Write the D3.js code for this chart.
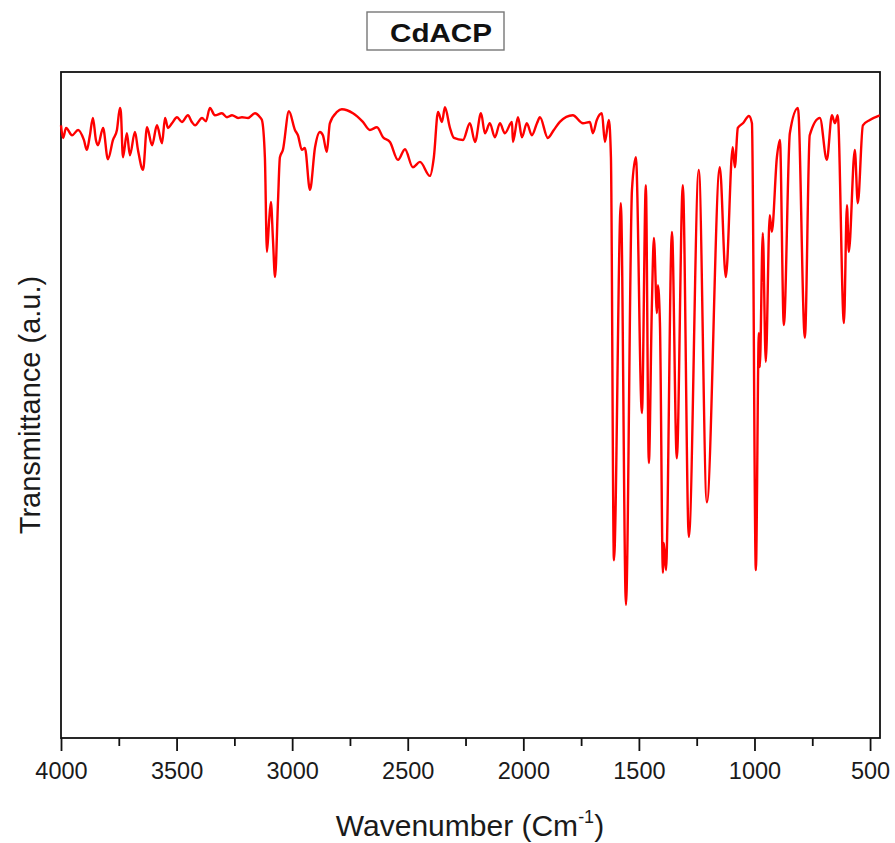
<!DOCTYPE html>
<html>
<head>
<meta charset="utf-8">
<script src="https://cdn.jsdelivr.net/npm/d3@7"></script>
<style>
  html, body { margin: 0; padding: 0; background: #fff; }
  svg { display: block; }
</style>
</head>
<body>
<svg id="chart" width="895" height="843"></svg>
<script>
// FT-IR spectrum of CdACP: wavenumber (cm-1) and transmittance (a.u.)
const wavenumbers = [
  4000, 3991, 3978, 3952, 3926, 3901, 3888, 3875, 3862, 3849, 3840, 3818, 3797, 3775, 3758,
  3745, 3741, 3732, 3715, 3702, 3680, 3667, 3645, 3628, 3606, 3585, 3563, 3550, 3537, 3520,
  3498, 3477, 3451, 3434, 3420, 3390, 3373, 3356, 3334, 3304, 3282, 3260, 3234, 3217, 3191,
  3161, 3139, 3131, 3118, 3109, 3100, 3092, 3083, 3074, 3061, 3053, 3040, 3014, 2988, 2975,
  2958, 2945, 2923, 2901, 2880, 2867, 2850, 2837, 2806, 2785, 2737, 2694, 2664, 2633, 2607,
  2577, 2542, 2512, 2478, 2447, 2404, 2387, 2369, 2352, 2339, 2318, 2300, 2261, 2231, 2209,
  2183, 2166, 2145, 2123, 2101, 2080, 2049, 2045, 2023, 2006, 1985, 1963, 1941, 1928, 1894,
  1868, 1842, 1786, 1742, 1712, 1699, 1682, 1660, 1647, 1630, 1621, 1608, 1578, 1556, 1530,
  1513, 1487, 1470, 1457, 1444, 1435, 1422, 1418, 1409, 1396, 1392, 1383, 1357, 1336, 1310,
  1284, 1241, 1206, 1150, 1124, 1094, 1085, 1072, 1050, 1024, 1011, 994, 981, 977, 964,
  951, 934, 925, 903, 890, 873, 847, 812, 782, 761, 717, 687, 665, 652, 640,
  613, 600, 592, 566, 553, 531, 501, 458
];
const transmittance = [
  92.0, 90.1, 91.6, 90.5, 91.3, 89.8, 88.3, 90.5, 93.1, 89.8, 89.0, 91.6, 86.9, 89.8, 91.3,
  94.6, 94.0, 87.2, 90.8, 87.5, 91.0, 88.3, 85.3, 91.7, 89.0, 92.0, 89.3, 93.1, 91.6, 92.3,
  93.2, 92.5, 93.5, 92.5, 92.0, 93.1, 92.6, 94.6, 93.5, 93.8, 93.2, 93.5, 93.1, 93.2, 93.1,
  93.8, 93.2, 92.8, 87.2, 73.0, 77.5, 80.5, 74.8, 69.2, 80.8, 87.2, 88.3, 94.1, 91.3, 90.5,
  88.3, 88.6, 82.3, 88.7, 91.0, 90.5, 88.0, 92.3, 94.0, 94.4, 93.8, 92.5, 91.3, 91.7, 90.2,
  89.5, 86.8, 88.4, 85.7, 86.5, 84.4, 87.2, 94.0, 92.5, 94.7, 91.7, 90.1, 89.8, 92.3, 89.5,
  93.8, 90.8, 92.3, 90.2, 92.3, 90.8, 92.5, 89.5, 93.2, 90.2, 92.3, 90.5, 92.3, 93.2, 90.1,
  91.3, 92.5, 93.5, 92.3, 92.5, 90.8, 92.8, 93.8, 89.5, 92.8, 87.2, 26.7, 80.3, 20.0, 82.3,
  87.2, 48.8, 83.0, 41.3, 64.7, 75.1, 63.8, 68.0, 62.3, 24.8, 29.3, 25.2, 76.0, 42.0, 83.0,
  30.2, 85.3, 35.4, 85.7, 69.2, 88.7, 85.7, 91.6, 92.3, 93.4, 92.3, 25.2, 60.8, 55.7, 75.8,
  56.5, 78.5, 76.0, 87.2, 89.8, 62.0, 90.8, 94.6, 60.1, 90.5, 93.1, 86.8, 93.5, 92.3, 93.5,
  62.3, 80.0, 73.0, 88.3, 80.3, 92.0, 92.8, 93.5
];
const majorTicks = [4000, 3500, 3000, 2500, 2000, 1500, 1000, 500];
const minorTicks = [3750, 3250, 2750, 2250, 1750, 1250, 750];
const chartTitle = "CdACP";

(function draw() {
  const svg = d3.select("#chart");
  const plotLeft = 61, plotRight = 880, plotTop = 72, plotBottom = 738;

  const x = d3.scaleLinear().domain([4000, 457]).range([plotLeft, plotRight]);
  const y = d3.scaleLinear().domain([0, 100]).range([plotBottom, plotTop]);

  const font = "'Liberation Sans', Arial, Helvetica, sans-serif";

  // plot frame
  svg.append("rect")
    .attr("x", plotLeft).attr("y", plotTop)
    .attr("width", plotRight - plotLeft).attr("height", plotBottom - plotTop)
    .attr("fill", "none").attr("stroke", "#111").attr("stroke-width", 1.8);

  // bottom axis: major ticks with labels, minor ticks without
  const axisMajor = d3.axisBottom(x).tickValues(majorTicks).tickSize(13).tickPadding(11)
    .tickFormat(d3.format("d"));
  const gMajor = svg.append("g").attr("transform", `translate(0,${plotBottom})`).call(axisMajor);
  gMajor.select(".domain").remove();
  gMajor.selectAll(".tick line").attr("stroke", "#111").attr("stroke-width", 1.8);
  gMajor.selectAll(".tick text")
    .attr("fill", "#1a1a1a").style("font-family", font).style("font-size", "23.5px");

  const axisMinor = d3.axisBottom(x).tickValues(minorTicks).tickSize(8).tickFormat("");
  const gMinor = svg.append("g").attr("transform", `translate(0,${plotBottom})`).call(axisMinor);
  gMinor.select(".domain").remove();
  gMinor.selectAll(".tick line").attr("stroke", "#111").attr("stroke-width", 1.8);

  // spectrum trace
  const points = wavenumbers.map((w, i) => [w, transmittance[i]]);
  const line = d3.line()
    .x(d => x(d[0]))
    .y(d => y(d[1]))
    .curve(d3.curveMonotoneX);

  svg.append("path")
    .datum(points)
    .attr("d", line)
    .attr("fill", "none")
    .attr("stroke", "#ff0000")
    .attr("stroke-width", 2.4)
    .attr("stroke-linejoin", "round");

  // x axis title with superscript
  const xt = svg.append("text")
    .attr("x", 470).attr("y", 836)
    .attr("text-anchor", "middle")
    .attr("fill", "#1a1a1a")
    .style("font-family", font).style("font-size", "30px");
  xt.append("tspan").text("Wavenumber (Cm");
  xt.append("tspan").attr("dy", -13).style("font-size", "18px").text("-1");
  xt.append("tspan").attr("dy", 13).text(")");

  // y axis title
  svg.append("text")
    .attr("transform", `translate(40,${(plotTop + plotBottom) / 2}) rotate(-90)`)
    .attr("text-anchor", "middle")
    .attr("fill", "#1a1a1a")
    .style("font-family", font).style("font-size", "29px")
    .text("Transmittance (a.u.)");

  // boxed chart title
  const titleG = svg.append("g");
  titleG.append("rect")
    .attr("x", 367).attr("y", 12).attr("width", 137).attr("height", 38)
    .attr("fill", "#fff").attr("stroke", "#777").attr("stroke-width", 1.4);
  titleG.append("text")
    .attr("x", 390).attr("y", 42)
    .attr("textLength", 102).attr("lengthAdjust", "spacingAndGlyphs")
    .attr("fill", "#111")
    .style("font-family", font).style("font-size", "26px").style("font-weight", "bold")
    .text(chartTitle);
})();
</script>
</body>
</html>
